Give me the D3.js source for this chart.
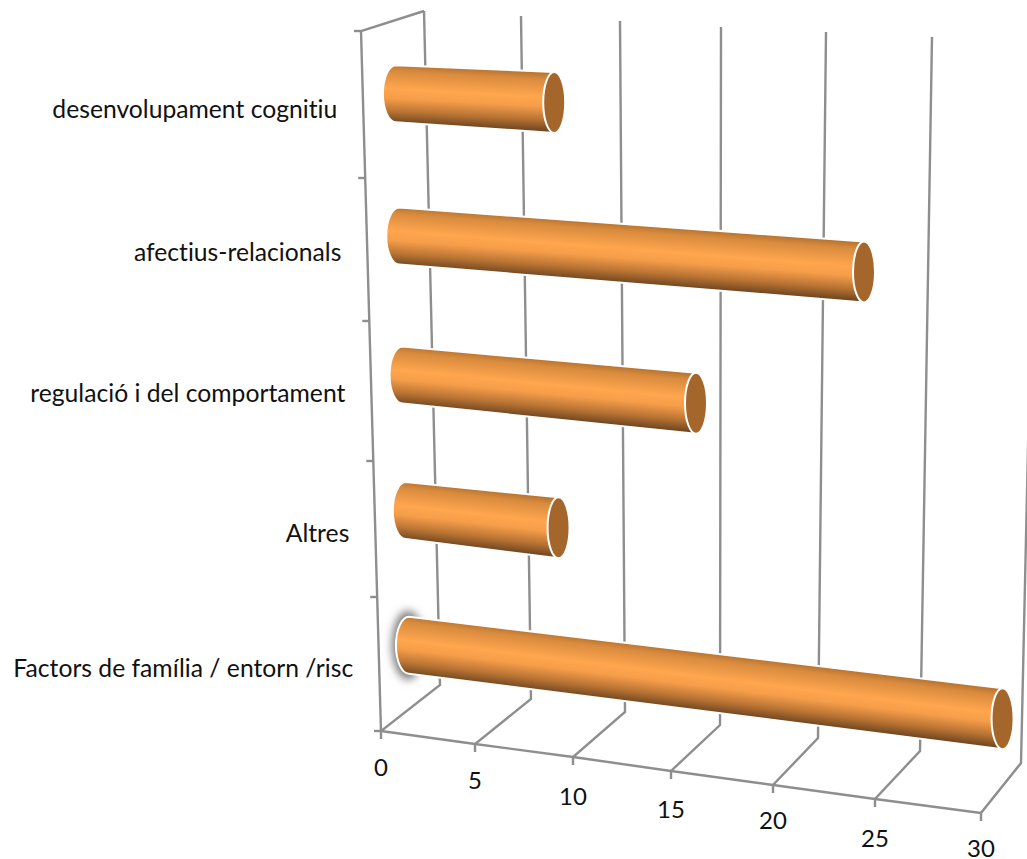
<!DOCTYPE html>
<html><head><meta charset="utf-8">
<script src="https://cdn.jsdelivr.net/npm/d3@7"></script>
<style>html,body{margin:0;padding:0;background:#fff}svg{display:block}text{font-family:Lato,sans-serif;fill:#111;font-variant-ligatures:none}</style>
</head><body><svg id="c" width="1027" height="859"></svg>
<script>
const categories = ["Factors de família / entorn /risc","Altres","regulació i del comportament","afectius-relacionals","desenvolupament cognitiu"];
const barValues = [30, 8, 15, 23, 8];
const axisTicks = [0,5,10,15,20,25,30];

const frontX=[381,475,573,671,773,875,981], frontY=[731,744,757,771,785,799,813];
const backX=[440,531,625,720,818,920,1021], backY=[685,699,712,725,738,751,763];
const topX=[424,521,620,721,826,932,1037], topY=[11,16,21,27,32,37,43];
const catStops=[0,1,2,3,4,5], catY=[731,597,461,321,178,31];
const sc=r=>d3.scaleLinear().domain(axisTicks).range(r);
const fx=sc(frontX),fy=sc(frontY),bx=sc(backX),by=sc(backY),tx=sc(topX),ty=sc(topY);
const wallH=d3.scaleLinear().domain(catStops).range(catY.map(y=>(731-y)/700));
const wallX=d3.scaleLinear().domain([731,31]).range([381,361]);
const grow=1.04;
function project(v,cat,depth){
  const h=wallH(cat);
  const floorX=fx(v)+(bx(v)-fx(v))*depth, floorY=fy(v)+(by(v)-fy(v))*depth;
  const fTopX=fx(v)+grow*(tx(v)-bx(v)), fTopY=fy(v)+grow*(ty(v)-by(v));
  const topXv=fTopX+(tx(v)-fTopX)*depth, topYv=fTopY+(ty(v)-fTopY)*depth;
  return [floorX+(topXv-floorX)*h, floorY+(topYv-floorY)*h+1];
}
const svg=d3.select("#c");
const defs=svg.append("defs");
defs.append("filter").attr("id","blur").attr("x","-100%").attr("y","-50%").attr("width","300%").attr("height","200%")
  .append("feGaussianBlur").attr("stdDeviation",4.5);
const g=svg.append("g").attr("fill","none").attr("stroke","#8e8e8e").attr("stroke-width",2.4);
const line=d3.line();
axisTicks.forEach(v=>{
  g.append("path").attr("d",line([[fx(v),fy(v)+8],[fx(v),fy(v)],[bx(v),by(v)],[tx(v),ty(v)]]));
});
g.append("path").attr("d",line(axisTicks.map(v=>[fx(v),fy(v)])));
g.append("path").attr("d",line([[wallX(731),731],[wallX(31),31],[tx(0),ty(0)]]));
catY.forEach(y=>g.append("path").attr("d",line([[wallX(y)-7,y],[wallX(y),y]])));

const depth=0.5, rL=28.5, rR=30.5, eL=13, eR=11;
categories.forEach((c,i)=>{
  const L=project(0,i+0.5,depth), R=project(barValues[i],i+0.5,depth);
  if(i===0) L[1]+=2;
  const dx=R[0]-L[0], dy=R[1]-L[1], len=Math.hypot(dx,dy), nx=-dy/len, ny=dx/len;
  const mx=(L[0]+R[0])/2,my=(L[1]+R[1])/2,rm=(rL+rR)/2;
  const id="grad"+i;
  const gr=defs.append("linearGradient").attr("id",id).attr("gradientUnits","userSpaceOnUse")
    .attr("x1",mx-nx*rm).attr("y1",my-ny*rm).attr("x2",mx+nx*rm).attr("y2",my+ny*rm);
  [[0,"#b5722f"],[.12,"#d98b3e"],[.42,"#ffa64e"],[.58,"#f59d49"],[.8,"#b97434"],[1,"#6e4520"]]
    .forEach(s=>gr.append("stop").attr("offset",s[0]).attr("stop-color",s[1]));
  if(i===0){
    svg.append("ellipse").attr("cx",L[0]-1).attr("cy",L[1]).attr("rx",eL+3).attr("ry",rL+6)
      .attr("fill","#7a7a7a").attr("filter","url(#blur)");
  }
  svg.append("path")
    .attr("d",`M${L[0]},${L[1]-rL}A${eL},${rL} 0 0 0 ${L[0]},${L[1]+rL}L${R[0]},${R[1]+rR}A${eR},${rR} 0 0 0 ${R[0]},${R[1]-rR}Z`)
    .attr("fill",`url(#${id})`).attr("stroke","#fff").attr("stroke-width",2);
  svg.append("ellipse").attr("cx",R[0]).attr("cy",R[1]).attr("rx",eR).attr("ry",rR)
    .attr("fill","#a5662c").attr("stroke","#fff").attr("stroke-width",2);
  const ly=(catY[i]+catY[i+1])/2+[5,4,3,3,5][i];
  svg.append("text").attr("x",wallX(ly)-26).attr("y",ly+[8,9,8,8,8][i]).attr("text-anchor","end")
    .attr("font-size",24.7).text(c);
});
axisTicks.forEach((v,i)=>{
  svg.append("text").attr("x",fx(v)).attr("y",fy(v)+[45,45,48,47,44,48,44][i]).attr("text-anchor","middle")
    .attr("font-size",24).text(v);
});
</script></body></html>
